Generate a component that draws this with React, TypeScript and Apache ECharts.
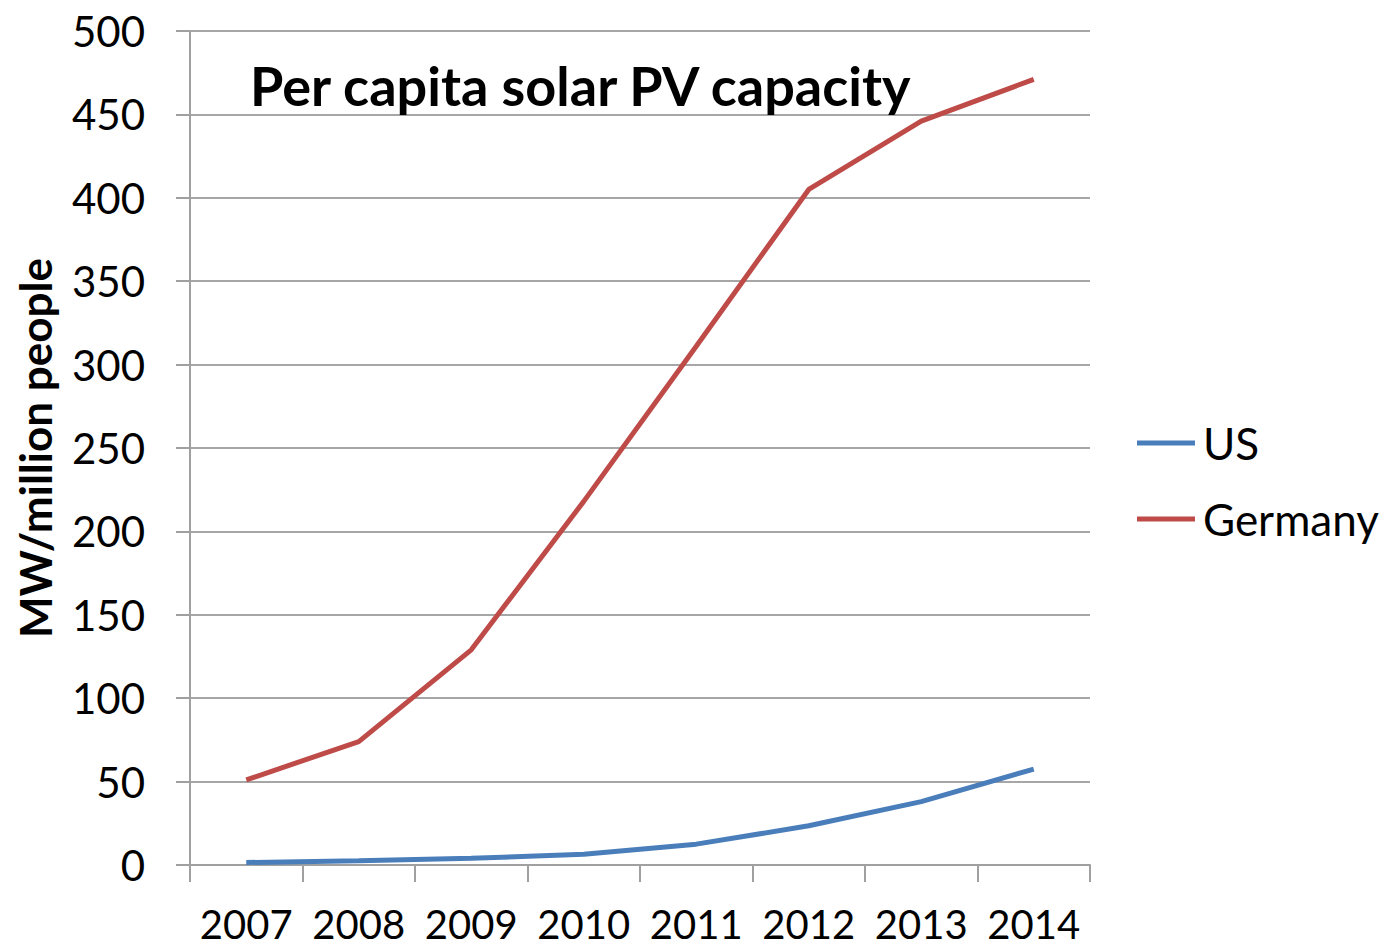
import React, { useEffect, useRef } from "react";
import * as echarts from "echarts";

const years = ["2007", "2008", "2009", "2010", "2011", "2012", "2013", "2014"];
const usValues = [1.5, 2.5, 4, 6.5, 12.5, 23.5, 38, 57.5];
const germanyValues = [51, 74, 129, 218, 311, 405, 446, 471];
const seriesNames = ["US", "Germany"];
const chartTitle = "Per capita solar PV capacity";
const yAxisName = "MW/million people";

const FONT = "Lato";

export default function App() {
  const ref = useRef<HTMLDivElement>(null);
  useEffect(() => {
    if (!ref.current) return;
    const chart = echarts.init(ref.current, undefined, { renderer: "svg" });
    chart.setOption({
      animation: false,
      backgroundColor: "#ffffff",
      title: {
        text: chartTitle,
        left: 250,
        top: 58,
        padding: 0,
        textStyle: { fontFamily: FONT, fontWeight: "bold", fontSize: 54, color: "#000" },
      },
      legend: {
        orient: "vertical",
        left: 1137,
        top: 421,
        padding: 0,
        icon: "rect",
        itemWidth: 58,
        itemHeight: 5,
        itemGap: 32,
        data: seriesNames,
        textStyle: { fontFamily: FONT, fontSize: 44, color: "#000", lineHeight: 44, padding: [0, 0, 0, 3] },
      },
      grid: { left: 190, right: 294, top: 31, bottom: 82, containLabel: false },
      xAxis: {
        type: "category",
        data: years,
        boundaryGap: true,
        axisLine: { lineStyle: { color: "#a0a0a0", width: 2 } },
        axisTick: { show: true, interval: 0, length: 17, lineStyle: { color: "#a0a0a0", width: 2 } },
        axisLabel: { fontFamily: FONT, fontSize: 40, lineHeight: 40, color: "#000", margin: 39, interval: 0 },
      },
      yAxis: {
        type: "value",
        min: 0,
        max: 500,
        interval: 50,
        name: yAxisName,
        nameLocation: "middle",
        nameRotate: 90,
        nameGap: 133,
        nameTextStyle: { fontFamily: FONT, fontWeight: "bold", fontSize: 44, color: "#000" },
        axisLine: { show: true, lineStyle: { color: "#a0a0a0", width: 2 } },
        axisTick: { show: true, length: 14, lineStyle: { color: "#a0a0a0", width: 2 } },
        axisLabel: { fontFamily: FONT, fontSize: 42, color: "#000", margin: 45 },
        splitLine: { show: true, lineStyle: { color: "#a6a6a6", width: 2 } },
      },
      series: [
        {
          name: seriesNames[0],
          type: "line",
          data: usValues,
          symbol: "none",
          color: "#4A7EBB",
          lineStyle: { width: 5, color: "#4A7EBB" },
        },
        {
          name: seriesNames[1],
          type: "line",
          data: germanyValues,
          symbol: "none",
          color: "#BE4B48",
          lineStyle: { width: 5, color: "#BE4B48" },
        },
      ],
    });
    return () => chart.dispose();
  }, []);
  return (
    <div
      ref={ref}
      style={{ position: "absolute", left: 0, top: 0, width: 1384, height: 947 }}
    />
  );
}
